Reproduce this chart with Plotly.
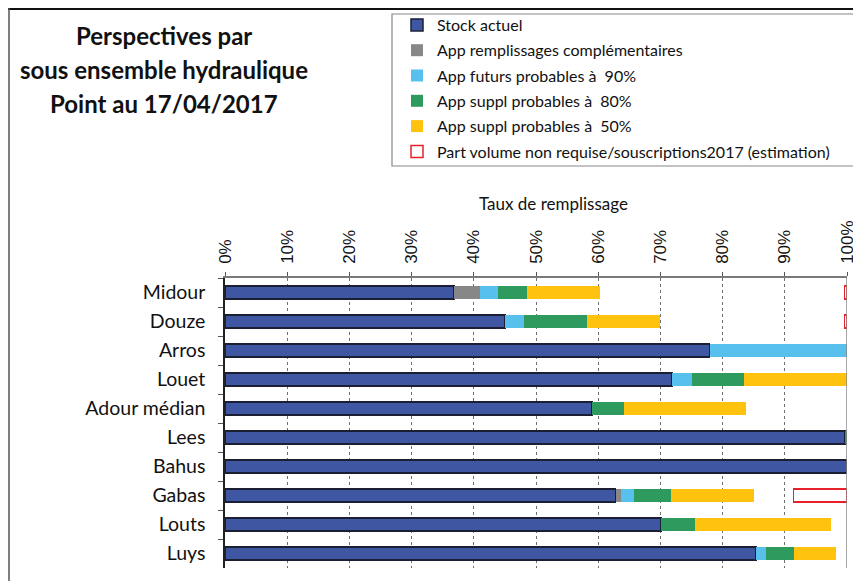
import plotly.graph_objects as go

categories = ["Midour", "Douze", "Arros", "Louet", "Adour médian", "Lees", "Bahus", "Gabas", "Louts", "Luys"]
stock_actuel = [36.8, 45.0, 77.9, 71.9, 59.0, 99.7, 100.0, 62.8, 70.1, 85.4]
app_rempl_compl = [4.2, 0, 0, 0, 0, 0, 0, 0.8, 0, 0]
app_futurs_90 = [2.9, 3.1, 22.1, 3.2, 0, 0, 0, 2.2, 0, 1.6]
app_suppl_80 = [4.7, 10.1, 0, 8.4, 5.2, 0.3, 0, 5.9, 5.5, 4.5]
app_suppl_50 = [11.7, 11.8, 0, 16.5, 19.5, 0, 0, 13.4, 21.8, 6.8]
part_non_requise = [0.4, 0.4, 0, 0, 0, 0, 0, 8.6, 0, 0]
tick_vals = [0, 10, 20, 30, 40, 50, 60, 70, 80, 90, 100]
tick_text = [f"{v}%" for v in tick_vals]

# page has an 8px body margin: work in page pixels, convert to figure pixels
OFF = 8
W, H = 861 - OFF, 581 - OFF
PL, PR, PT, PB = 225, 847, 278, 568  # plot area in page pixels
L, R, T, B = PL - OFF, PR - OFF, PT - OFF, PB - OFF


def px(x):
    return (x - PL) / (PR - PL)


def py(y):
    return (PB - y) / (PB - PT)


fig = go.Figure()
series = [
    ("Stock actuel", stock_actuel, "#3F57A3", dict(color="#1b1f33", width=1.5)),
    ("App remplissages complémentaires", app_rempl_compl, "#878787", dict(width=0)),
    ("App futurs probables à  90%", app_futurs_90, "#58C0EC", dict(width=0)),
    ("App suppl probables à  80%", app_suppl_80, "#2E9A5E", dict(width=0)),
    ("App suppl probables à  50%", app_suppl_50, "#FFC20E", dict(width=0)),
]
for i, (name, vals, col, line) in enumerate(series):
    fig.add_trace(go.Bar(
        y=categories, x=vals, orientation="h", name=name,
        marker=dict(color=col, line=line), width=0.45,
        legendgroup=f"g{i}",
    ))

red_x = [v if v > 0 else None for v in part_non_requise]
red_base = [100 - v if v > 0 else None for v in part_non_requise]
fig.add_trace(go.Bar(
    y=categories, x=red_x, base=red_base, orientation="h",
    name="Part volume non requise/souscriptions2017 (estimation)",
    marker=dict(color="rgba(255,255,255,1)", line=dict(color="#E8202A", width=1.5)),
    width=0.45, legendgroup="g5",
))

fig.update_layout(
    width=W, height=H, barmode="stack",
    margin=dict(l=L, r=W - R, t=T, b=H - B, pad=0, autoexpand=False),
    paper_bgcolor="white", plot_bgcolor="white",
    font=dict(family="Lato", color="#111111"),
    showlegend=True,
    legend=dict(
        xref="paper", yref="paper",
        x=px(397), y=py(8), xanchor="left", yanchor="top",
        font=dict(family="Lato", size=16, color="#111111"),
        bgcolor="rgba(0,0,0,0)", borderwidth=0,
        tracegroupgap=1.5, traceorder="grouped",
    ),
    xaxis=dict(
        side="top", range=[0, 100], tickvals=tick_vals, ticktext=tick_text,
        tickangle=-90, tickfont=dict(family="Liberation Sans", size=17, color="#111111"),
        showgrid=True, gridcolor="#6e6e6e", griddash="dot", gridwidth=1,
        ticks="outside", ticklen=4, tickcolor="#555555",
        showline=True, linecolor="#7a7a7a", linewidth=1.5,
        zeroline=False, automargin=False, ticklabelstandoff=5,
    ),
    yaxis=dict(
        autorange="reversed", tickfont=dict(family="Lato", size=19.5, color="#111111"),
        ticks="outside", tickson="boundaries", ticklen=5, tickcolor="#555555",
        showline=True, linecolor="#222222", linewidth=1.5, showgrid=False,
        ticklabelstandoff=14, automargin=False,
    ),
)

# right 100% line
fig.add_shape(type="line", xref="x", yref="paper", x0=100, x1=100, y0=0, y1=1,
              line=dict(color="#8a8a8a", width=1.5), layer="above")

# legend box
fig.add_shape(type="rect", xref="paper", yref="paper",
              x0=px(392), x1=px(859), y0=py(166), y1=py(14),
              line=dict(color="#888888", width=1.2), fillcolor="rgba(0,0,0,0)", layer="below")

# frame lines (top and left edges)
fig.add_shape(type="line", xref="paper", yref="paper", x0=px(OFF), x1=px(861), y0=py(OFF + 1), y1=py(OFF + 1),
              line=dict(color="#111111", width=2))
fig.add_shape(type="line", xref="paper", yref="paper", x0=px(OFF + 1), x1=px(OFF + 1), y0=py(OFF), y1=py(581),
              line=dict(color="#555555", width=1.5))

# title
for txt, yc in [("Perspectives par", 35), ("sous ensemble hydraulique", 69), ("Point au 17/04/2017", 103)]:
    fig.add_annotation(text=f"<b>{txt}</b>", xref="paper", yref="paper", x=px(164), y=py(yc),
                       showarrow=False, xanchor="center", yanchor="middle",
                       font=dict(family="Lato", size=24, color="#111111"))

# axis title
fig.add_annotation(text="Taux de remplissage", xref="paper", yref="paper", x=px(553), y=py(203),
                   showarrow=False, xanchor="center", yanchor="middle",
                   font=dict(family="Lato", size=17, color="#111111"))

fig.write_html("out.html")
